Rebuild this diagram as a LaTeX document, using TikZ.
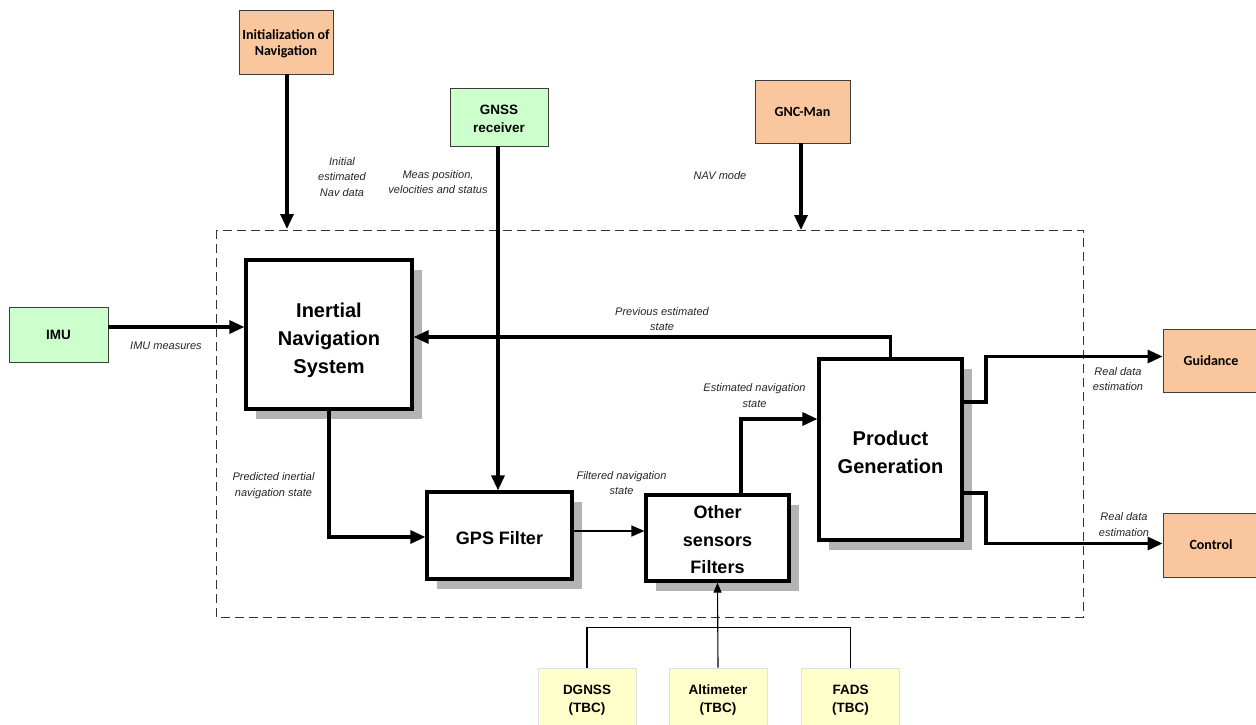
\documentclass[tikz,border=0pt]{standalone}
\usepackage{fontspec}
\setmainfont{Liberation Sans}
\newfontfamily\calibfont{Carlito}
\usetikzlibrary{arrows.meta,shadows}

\definecolor{peach}{HTML}{F9C69E}
\definecolor{mint}{HTML}{CCFFCC}
\definecolor{cream}{HTML}{FFFFCC}
\definecolor{shade}{HTML}{B4B4B4}
\definecolor{edge}{HTML}{3C3C3C}

\tikzset{
  mainblk/.style={draw=black, line width=3.2pt, fill=white, inner sep=0pt,
    drop shadow={shadow xshift=10pt, shadow yshift=-10pt, fill=shade, opacity=1}},
  bigtext/.style={align=center, inner sep=0pt, font=\bfseries\fontsize{20}{28}\selectfont},
  midtext/.style={align=center, inner sep=0pt, font=\bfseries\fontsize{18}{27.5}\selectfont},
  extblk/.style={draw=edge, line width=0.9pt, fill=peach, align=center, inner sep=0pt,
    font=\calibfont\bfseries\fontsize{14}{16.5}\selectfont},
  sensblk/.style={draw=edge, line width=0.9pt, fill=mint, align=center, inner sep=0pt,
    font=\bfseries\fontsize{13.5}{18}\selectfont},
  auxblk/.style={draw=black!12, line width=0.9pt, fill=cream, align=center, inner sep=0pt,
    font=\bfseries\fontsize{13.5}{18}\selectfont},
  lbl/.style={align=center, inner sep=0pt, text=black!85,
    font=\itshape\fontsize{11}{15.5}\selectfont},
  thickarr/.style={line width=3.2pt, -{Triangle[length=15pt,width=13pt]}},
  thinarr/.style={line width=1.4pt, -{Triangle[length=13pt,width=11pt]}},
  thinline/.style={line width=1.1pt},
  smallarr/.style={line width=1.1pt, -{Triangle[length=10pt,width=8pt]}},
  frame/.style={draw=black!80, line width=0.9pt, dash pattern=on 9pt off 5pt}
}

\begin{document}
\begin{tikzpicture}[x=1pt,y=-1pt]
\useasboundingbox (0,0) rectangle (1256,724);
\fill[white] (0,0) rectangle (1256,724);

% navigation subsystem boundary
\draw[frame] (216,230) rectangle (1083,617);

% external inputs and outputs
\node[extblk, minimum width=94pt, minimum height=64pt] (init) at (286,42) {};
\node[extblk, draw=none, fill=none] (initT) at ([yshift=-2pt]init.center) {Initialization of\\Navigation};
\node[sensblk, minimum width=98pt, minimum height=58pt] (gnss) at (499,117) {};
\node[sensblk, draw=none, fill=none] (gnssT) at ([yshift=-2pt]gnss.center) {GNSS\\receiver};
\node[extblk, minimum width=95pt, minimum height=63pt] (gnc) at (802.5,111.5) {GNC-Man};
\node[sensblk, minimum width=99pt, minimum height=55pt] (imu) at (58.5,334.5) {IMU};
\node[extblk, minimum width=96pt, minimum height=63pt] (guid) at (1211,360.5) {Guidance};
\node[extblk, minimum width=96pt, minimum height=64pt] (ctrl) at (1211,545) {Control};
\node[auxblk, minimum width=98pt, minimum height=64pt] (dgnss) at (587,700) {DGNSS\\(TBC)};
\node[auxblk, minimum width=98pt, minimum height=64pt] (alt) at (718,700) {Altimeter\\(TBC)};
\node[auxblk, minimum width=98pt, minimum height=64pt] (fads) at (850.5,700) {FADS\\(TBC)};

% processing blocks
\node[mainblk, minimum width=166pt, minimum height=149pt] (ins) at (329,334.5) {};
\node[bigtext] (insT) at ([yshift=-6pt]ins.center) {Inertial\\Navigation\\System};
\node[mainblk, minimum width=145pt, minimum height=87pt] (gps) at (499.5,535.5) {};
\node[midtext] (gpsT) at ([yshift=-3pt]gps.center) {GPS Filter};
\node[mainblk, minimum width=143pt, minimum height=86pt] (oth) at (717.5,538) {};
\node[midtext] (othT) at ([yshift=-2pt]oth.center) {Other\\sensors\\Filters};
\node[mainblk, minimum width=143pt, minimum height=181pt] (pg) at (890.5,449.5) {};
\node[bigtext] (pgT) at ([yshift=-3pt]pg.center) {Product\\Generation};

% helper points
\coordinate (initEnd) at (287,229);
\coordinate (gnssX) at (498,0);
\coordinate (gncEnd) at (801,230);
\coordinate (imuY) at (0,327);
\coordinate (prevY) at (0,337);
\coordinate (predY) at (0,537);
\coordinate (filtY) at (0,531);
\coordinate (estX) at (741,419);
\coordinate (gBend) at (986,402);
\coordinate (guidY) at (0,356.5);
\coordinate (cBend) at (986,493);
\coordinate (ctrlY) at (0,543.5);

% data flows
\draw[thickarr] (init.south -| initEnd) -- (initEnd);
\draw[thickarr] (gnss.south -| gnssX) -- (gps.north -| gnssX);
\draw[thickarr] (gnc.south -| gncEnd) -- (gncEnd);
\draw[thickarr] (imu.east |- imuY) -- (ins.west |- imuY);
\draw[thickarr] (pg.north) |- (ins.east |- prevY);
\draw[thickarr] (ins.south) |- (gps.west |- predY);
\draw[thinarr] (gps.east |- filtY) -- (oth.west |- filtY);
\draw[thickarr] (oth.north -| estX) |- (pg.west |- estX);
\draw[thickarr] (pg.east |- gBend) -- (gBend) |- (guid.west |- guidY);
\draw[thickarr] (pg.east |- cBend) -- (cBend) |- (ctrl.west |- ctrlY);
\draw[thinline] (dgnss.north) -- ++(0,-40) -| (fads.north);
\draw[smallarr] (alt.north) -- (oth.south);

% flow labels
\node[lbl] (lInit) at (342,177) {Initial\\estimated\\Nav data};
\node[lbl] (lMeas) at (438,182) {Meas position,\\velocities and status};
\node[lbl] (lNav) at (720,176) {NAV mode};
\node[lbl] (lImu) at (166,346) {IMU measures};
\node[lbl] (lPrev) at (662,319) {Previous estimated\\state};
\node[lbl] (lEst) at (754.5,395.5) {Estimated navigation\\state};
\node[lbl] (lPred) at (273.5,485.5) {Predicted inertial\\navigation state};
\node[lbl] (lFilt) at (621.5,483) {Filtered navigation\\state};
\node[lbl] (lReal1) at (1118,379) {Real data\\estimation};
\node[lbl] (lReal2) at (1124,524.5) {Real data\\estimation};
\end{tikzpicture}
\end{document}
